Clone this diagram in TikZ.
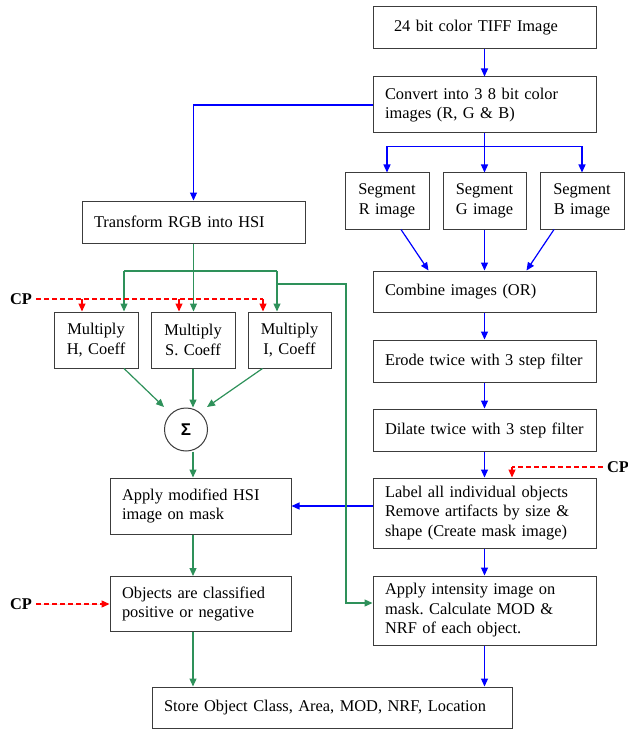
\documentclass[tikz,border=0pt]{standalone}
\usepackage{fontspec}
\setmainfont{Liberation Serif}
\setsansfont{Liberation Sans}
\usetikzlibrary{arrows.meta,calc}
\definecolor{myblue}{RGB}{0,0,255}
\definecolor{mygreen}{RGB}{46,145,90}
\definecolor{myred}{RGB}{255,0,0}
\definecolor{boxgray}{RGB}{60,60,60}
\frenchspacing
\begin{document}
\begin{tikzpicture}[x=1pt,y=-1pt,
  box/.style={draw=boxgray, line width=1pt, rectangle, inner xsep=12pt, inner ysep=0pt,
    align=left, text width=199pt, font=\fontsize{16.4}{19.5}\selectfont},
  sbox/.style={draw=boxgray, line width=1pt, rectangle, inner xsep=6pt, inner ysep=0pt,
    align=center, text width=72pt, minimum height=56pt, font=\fontsize{16.4}{19.5}\selectfont},
  cp/.style={inner xsep=4pt, inner ysep=0pt, font=\bfseries\fontsize{16.4}{19.5}\selectfont},
  tip/.style={-{Triangle[length=8pt,width=7pt]}},
  barrow/.style={draw=myblue, line width=1.2pt, tip},
  garrow/.style={draw=mygreen, line width=1.2pt, tip},
  gline/.style={draw=mygreen, line width=1.2pt},
  rdash/.style={draw=myred, line width=1.3pt, dash pattern=on 5pt off 3pt},
  rarrow/.style={draw=myred, line width=1.2pt, tip},
  rdarrow/.style={draw=myred, fill=myred, line width=1.3pt, dash pattern=on 5pt off 3pt, tip},
]
\fill[white] (0,0) rectangle (628,730);
\useasboundingbox (0,0) rectangle (628,730);

% right column
\node[box, minimum height=42pt] (tiff) at (484.5,28) {\hspace*{9pt}24 bit color TIFF Image};
\node[box, minimum height=56pt] (convert) at (484.5,105) {Convert into 3 8 bit color\\images (R, G \& B)};
\node[sbox] (segR) at (387,201) {Segment\\R image};
\node[sbox, text width=71pt] (segG) at (484.5,201) {Segment\\G image};
\node[sbox] (segB) at (582,201) {Segment\\B image};
\node[box, minimum height=41pt] (combine) at (484.5,291.5) {Combine images (OR)};
\node[box, minimum height=42pt] (erode) at (484.5,361) {Erode twice with 3 step filter};
\node[box, minimum height=42pt] (dilate) at (484.5,430) {Dilate twice with 3 step filter};
\node[box, minimum height=70pt] (label) at (484.5,513) {Label all individual objects\\Remove artifacts by size \&\\shape (Create mask image)};
\node[box, minimum height=69pt] (intensity) at (484.5,610.5) {Apply intensity image on\\mask. Calculate MOD \&\\NRF of each object.};

% left column
\node[box, minimum height=42pt] (transform) at (193.5,222) {Transform RGB into HSI};
\node[sbox] (mulH) at (96,340) {Multiply\\H, Coeff};
\node[sbox] (mulS) at (193,340) {Multiply\\S. Coeff};
\node[sbox, text width=71pt] (mulI) at (289.5,340) {Multiply\\I, Coeff};
\node[circle, draw=boxgray, line width=1pt, minimum size=43pt, inner sep=0pt,
  font=\sffamily\bfseries\fontsize{17}{17}\selectfont] (sigma) at (186,429.5) {Σ};
\node[box, text width=157pt, minimum height=56pt] (hsi) at (200.5,506) {Apply modified HSI\\image on mask};
\node[box, text width=157pt, minimum height=55pt] (objects) at (200.5,604) {Objects are classified\\positive or negative};
\node[box, text width=336pt, minimum height=41pt] (store) at (332,707.5) {Store Object Class, Area, MOD, NRF, Location};

% CP labels
\node[cp] (cp1) at (21,299) {CP};
\node[cp] (cp2) at (618,467) {CP};
\node[cp] (cp3) at (21,604) {CP};

% blue connectors
\draw[barrow] (tiff) -- (convert);
\draw[barrow] (convert.west) -| (transform.north);
\draw[barrow] (convert.south) -- (segG.north);
\coordinate (bj) at ($(convert.south)+(0,13)$);
\draw[barrow] (bj) -| (segR.north);
\draw[barrow] (bj) -| (segB.north);
\draw[barrow] ($(segR.south)+(14,0)$) -- ($(combine.north)+(-56,0)$);
\draw[barrow] (segG.south) -- (combine.north);
\draw[barrow] ($(segB.south)+(-28,0)$) -- ($(combine.north)+(42,0)$);
\draw[barrow] (combine) -- (erode);
\draw[barrow] (erode) -- (dilate);
\draw[barrow] (dilate) -- (label);
\draw[barrow] (label) -- (intensity);
\draw[barrow] (intensity.south) -- (intensity.south |- store.north);
\draw[barrow] (hsi.east -| label.west) -- (hsi.east);

% green connectors
\coordinate (gH) at (124,271);
\coordinate (gI) at (277,271);
\coordinate (gT) at (277,284);
\coordinate (gT2) at (346,284);
\coordinate (gT3) at (346,603);
\draw[garrow] (transform.south) -- (transform.south |- mulS.north);
\draw[gline] (gH) -- (gI);
\draw[garrow] (gH) -- (gH |- mulH.north);
\draw[garrow] (gI) -- (gI |- mulI.north);
\draw[garrow] (gT) -- (gT2) -- (gT3) -- (gT3 -| intensity.west);
\draw[garrow] ($(mulH.south)+(28,0)$) -- ($(sigma)+(-22,-22.5)$);
\draw[garrow] (mulS.south) -- (mulS.south |- sigma.north);
\draw[garrow] ($(mulI.south)+(-27,0)$) -- ($(sigma)+(21,-22.5)$);
\draw[garrow] (mulS.south |- sigma.south) -- (mulS.south |- hsi.north);
\draw[garrow] (mulS.south |- hsi.south) -- (mulS.south |- objects.north);
\draw[garrow] (mulS.south |- objects.south) -- (mulS.south |- store.north);

% red connectors
\coordinate (rH) at (82,299);
\coordinate (rS) at (179,299);
\coordinate (rI) at (263,299);
\draw[rdash] (cp1.east) -- (rI);
\draw[rarrow] (rH) -- (rH |- mulH.north);
\draw[rarrow] (rS) -- (rS |- mulS.north);
\draw[rarrow] (rI) -- (rI |- mulI.north);
\draw[rdarrow] (cp3.east) -- (objects.west);
\coordinate (rL) at (512,467);
\draw[rdash] (cp2.west) -- (rL);
\draw[rarrow] (rL) -- (rL |- label.north);
\end{tikzpicture}
\end{document}
